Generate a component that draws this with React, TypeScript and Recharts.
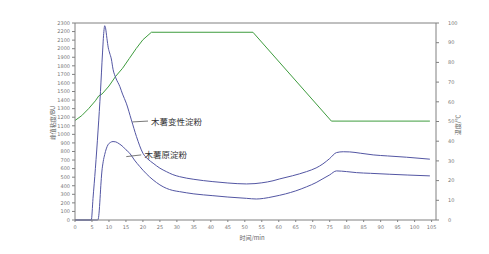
import React from 'react';
import {
  ComposedChart,
  Line,
  XAxis,
  YAxis,
  ReferenceLine,
  ReferenceDot,
} from 'recharts';

// 木薯变性淀粉 (modified starch) viscosity curve
const modTime = [0, 4.8, 5.3, 6, 6.8, 7.5, 8.1, 8.5, 8.75, 9, 9.4, 9.8, 10.2, 10.7, 11.2, 12, 13.2, 14, 15.1, 16.6, 18.1, 20, 21.5, 23, 25, 26.9, 28.8, 30.8, 35, 40.6, 45, 50.5, 53, 55, 58.3, 60.3, 64, 68.2, 71, 73, 75, 77, 79, 80.9, 84, 87.8, 92, 97.6, 101, 104.5];
const modVisc = [0, 0, 250, 600, 1050, 1500, 1950, 2200, 2268, 2240, 2120, 2010, 1950, 1880, 1760, 1660, 1559, 1470, 1364, 1169, 974, 780, 710, 663, 605, 565, 530, 506, 475, 448, 432, 421, 425, 434, 458, 480, 516, 565, 608, 655, 718, 787, 797, 795, 780, 760, 748, 733, 722, 710];

// 木薯原淀粉 (native starch) viscosity curve
const natTime = [0, 6.7, 7, 7.3, 7.6, 7.9, 8.3, 8.75, 9.2, 9.7, 10.4, 11.2, 12, 13, 14.1, 15, 16.1, 17.5, 19.1, 21, 23, 25, 26.9, 28.8, 30.8, 35, 40.6, 45, 50.5, 53.4, 55.5, 58.3, 62, 65, 68.2, 71, 73, 75, 77, 80, 82.9, 87, 92.7, 98, 104.5];
const natVisc = [0, 0, 50, 200, 400, 560, 680, 765, 830, 877, 905, 916, 912, 890, 857, 820, 780, 700, 623, 540, 468, 410, 370, 345, 331, 305, 284, 268, 253, 245, 252, 272, 305, 340, 388, 437, 482, 527, 573, 565, 553, 545, 534, 525, 515];

// temperature program
const tempTime = [0, 2, 4, 6, 7, 8, 10, 12, 14, 16, 18, 20, 22.5, 52.4, 75.5, 104.5];
const tempVal = [50.5, 53, 56.5, 60.5, 63, 64, 68, 73, 77, 82, 87, 91.5, 95.3, 95.3, 50.2, 50.2];

const xTicks = Array.from({ length: 22 }, (_, i) => i * 5);
const leftTicks = Array.from({ length: 24 }, (_, i) => i * 100);
const rightTicks = Array.from({ length: 11 }, (_, i) => i * 10);

const modData = modTime.map((t, i) => ({ t, v: modVisc[i] }));
const natData = natTime.map((t, i) => ({ t, v: natVisc[i] }));
const tempData = tempTime.map((t, i) => ({ t, temp: tempVal[i] }));

const AXIS = '#808080';
const BLUE = '#5356a3';
const GREEN = '#3e9c3e';
const tickStyle = { fontSize: 5, fill: '#777', fontFamily: 'DejaVu Sans' };
const cjk = '"Noto Sans CJK SC", sans-serif';

export default function App() {
  return (
    <div style={{ position: 'absolute', left: 0, top: 0, width: 489, height: 254, background: '#fff' }}>
      <ComposedChart width={489} height={254} margin={{ top: 23, right: 0, left: 0, bottom: 0 }}>
        <XAxis
          dataKey="t"
          type="number"
          domain={[0, 106.3]}
          ticks={xTicks}
          allowDataOverflow
          height={34}
          tickSize={2}
          tickMargin={3}
          stroke={AXIS}
          tick={tickStyle}
        />
        <YAxis
          yAxisId="left"
          type="number"
          domain={[0, 2300]}
          ticks={leftTicks}
          interval={0}
          width={75}
          tickSize={3}
          tickMargin={2}
          stroke={AXIS}
          tick={tickStyle}
        />
        <YAxis
          yAxisId="right"
          orientation="right"
          type="number"
          domain={[0, 100]}
          ticks={rightTicks}
          interval={0}
          width={53}
          tickSize={3}
          tickMargin={9}
          stroke={AXIS}
          tick={tickStyle}
        />
        <ReferenceLine yAxisId="left" y={2300} stroke={AXIS} />
        <Line
          yAxisId="right"
          data={tempData}
          dataKey="temp"
          type="linear"
          stroke={GREEN}
          strokeWidth={1}
          dot={false}
          isAnimationActive={false}
        />
        <Line
          yAxisId="left"
          data={modData}
          dataKey="v"
          type="monotone"
          stroke={BLUE}
          strokeWidth={1}
          dot={false}
          isAnimationActive={false}
        />
        <Line
          yAxisId="left"
          data={natData}
          dataKey="v"
          type="monotone"
          stroke={BLUE}
          strokeWidth={1}
          dot={false}
          isAnimationActive={false}
        />
        <ReferenceLine
          yAxisId="left"
          segment={[{ x: 16.9, y: 1145 }, { x: 21.5, y: 1155 }]}
          stroke="#555"
          strokeWidth={0.8}
        />
        <ReferenceLine
          yAxisId="left"
          segment={[{ x: 15.1, y: 740 }, { x: 19.5, y: 760 }]}
          stroke="#555"
          strokeWidth={0.8}
        />
        <ReferenceDot
          yAxisId="left"
          x={21.5}
          y={1150}
          r={1}
          fill="none"
          stroke="none"
          label={{ value: '木薯变性淀粉', position: 'right', offset: 2, fontSize: 8.5, fill: '#333', fontFamily: cjk }}
        />
        <ReferenceDot
          yAxisId="left"
          x={19.6}
          y={755}
          r={1}
          fill="none"
          stroke="none"
          label={{ value: '木薯原淀粉', position: 'right', offset: 2, fontSize: 8.5, fill: '#333', fontFamily: cjk }}
        />
      </ComposedChart>
      <div
        style={{
          position: 'absolute', left: 252, top: 237, transform: 'translate(-50%, -50%)',
          fontSize: 6, color: '#666', fontFamily: cjk, whiteSpace: 'nowrap',
        }}
      >
        时间/min
      </div>
      <div
        style={{
          position: 'absolute', left: 52, top: 123, transform: 'translate(-50%, -50%) rotate(-90deg)',
          fontSize: 6, color: '#666', fontFamily: cjk, whiteSpace: 'nowrap',
        }}
      >
        峰值粘度/BU
      </div>
      <div
        style={{
          position: 'absolute', left: 457, top: 125, transform: 'translate(-50%, -50%) rotate(-90deg)',
          fontSize: 6, color: '#666', fontFamily: cjk, whiteSpace: 'nowrap',
        }}
      >
        温度/℃
      </div>
    </div>
  );
}
